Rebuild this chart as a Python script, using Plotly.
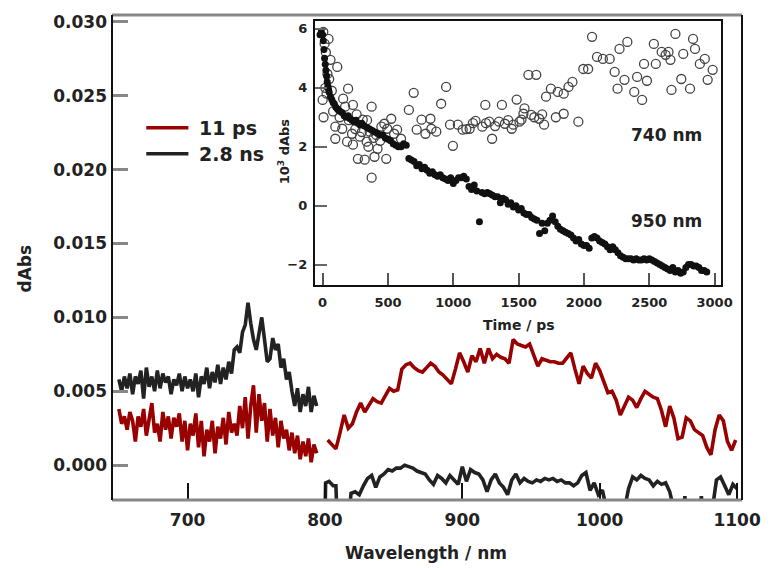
import plotly.graph_objects as go

# ---------------- main spectra ----------------
NM_LEFT = list(range(650, 796, 2))          # 650 ... 794
RED_LEFT = [
    0.0038, 0.0028, 0.0033, 0.0024, 0.0036, 0.0030, 0.0016, 0.0033, 0.0026, 0.0038,
    0.0020, 0.0030, 0.0042, 0.0022, 0.0028, 0.0016, 0.0036, 0.0024, 0.0033, 0.0018,
    0.0032, 0.0026, 0.0035, 0.0016, 0.0030, 0.0010, 0.0028, 0.0020, 0.0035, 0.0012,
    0.0030, 0.0006, 0.0024, 0.0016, 0.0030, 0.0008, 0.0026, 0.0018, 0.0032, 0.0014,
    0.0036, 0.0022, 0.0028, 0.0020, 0.0040, 0.0025, 0.0046, 0.0018, 0.0040, 0.0054,
    0.0022, 0.0048, 0.0030, 0.0042, 0.0016, 0.0038, 0.0020, 0.0032, 0.0012, 0.0030,
    0.0018, 0.0024, 0.0010, 0.0022, 0.0008, 0.0020, 0.0004, 0.0016, 0.0006, 0.0018,
    0.0002, 0.0014, 0.0008,
]
BLACK_LEFT = [
    0.0058, 0.0050, 0.0060, 0.0052, 0.0062, 0.0048, 0.0060, 0.0055, 0.0064, 0.0045,
    0.0066, 0.0053, 0.0060, 0.0050, 0.0064, 0.0052, 0.0062, 0.0056, 0.0060, 0.0048,
    0.0058, 0.0054, 0.0062, 0.0050, 0.0060, 0.0052, 0.0058, 0.0050, 0.0062, 0.0046,
    0.0060, 0.0055, 0.0066, 0.0052, 0.0063, 0.0056, 0.0068, 0.0055, 0.0066, 0.0058,
    0.0070, 0.0062, 0.0078, 0.0080, 0.0076, 0.0090, 0.0095, 0.0110, 0.0096, 0.0085,
    0.0078, 0.0090, 0.0100, 0.0085, 0.0070, 0.0072, 0.0086, 0.0078, 0.0082, 0.0066,
    0.0072, 0.0058, 0.0063, 0.0050, 0.0040, 0.0052, 0.0036, 0.0048, 0.0040, 0.0053,
    0.0036, 0.0047, 0.0040,
]

NM_RED_RIGHT = list(range(802, 1100, 3))    # 802 ... 1099
RED_RIGHT = [
    0.0017, 0.0014, 0.0011, 0.0022, 0.0034, 0.0025, 0.0028, 0.0036, 0.0042, 0.0036,
    0.0040, 0.0045, 0.0043, 0.0042, 0.0047, 0.0052, 0.0050, 0.0051, 0.0065, 0.0068,
    0.0069, 0.0066, 0.0064, 0.0063, 0.0066, 0.0069, 0.0067, 0.0063, 0.0061, 0.0058,
    0.0055, 0.0065, 0.0076, 0.0070, 0.0063, 0.0074, 0.0070, 0.0079, 0.0069, 0.0079,
    0.0072, 0.0075, 0.0073, 0.0072, 0.0069, 0.0085, 0.0082, 0.0081, 0.0080, 0.0082,
    0.0075, 0.0067, 0.0072, 0.0071, 0.0070, 0.0070, 0.0069, 0.0069, 0.0073, 0.0076,
    0.0065, 0.0055, 0.0067, 0.0062, 0.0059, 0.0069, 0.0064, 0.0056, 0.0049, 0.0050,
    0.0044, 0.0034, 0.0040, 0.0046, 0.0044, 0.0039, 0.0045, 0.0050, 0.0048, 0.0046,
    0.0045, 0.0037, 0.0026, 0.0040, 0.0032, 0.0018, 0.0019, 0.0032, 0.0030, 0.0024,
    0.0022, 0.0020, 0.0012, 0.0007, 0.0024, 0.0034, 0.0030, 0.0016, 0.0010, 0.0017,
]

NM_BLACK_RIGHT = [
    800, 800.5, 803, 806, 808, 809, 817, 819, 822, 825,
    828, 831, 834, 837, 840, 843, 846, 849, 852, 855,
    858, 861, 864, 867, 870, 873, 876, 879, 882, 885,
    888, 891, 894, 897, 900, 903, 906, 909, 912, 915,
    918, 921, 924, 927, 930, 933, 936, 939, 942, 945,
    948, 951, 954, 957, 960, 963, 966, 969, 972, 975,
    978, 981, 984, 987, 990, 993, 996, 999, 1002, 1005,
    1018, 1021, 1024, 1027, 1030, 1033, 1036, 1039, 1042, 1045,
    1048, 1051, 1054, 1061, 1062, 1063, 1073, 1074, 1075, 1082,
    1085, 1088, 1091, 1094, 1097, 1100,
]
BLACK_RIGHT = [
    -0.0040, -0.0012, -0.0011, -0.0014, -0.0014, -0.0040, -0.0040, -0.0019, -0.0018, -0.0020,
    -0.0014, -0.0009, -0.0007, -0.0015, -0.0008, -0.0006, -0.0003, -0.0004, -0.0002, -0.0002,
    0.0000, -0.0001, -0.0002, -0.0004, -0.0005, -0.0006, -0.0010, -0.0013, -0.0007, -0.0009,
    -0.0012, -0.0007, -0.0010, -0.0013, -0.0001, -0.0011, -0.0003, -0.0005, -0.0006, -0.0010,
    -0.0018, -0.0010, -0.0006, -0.0012, -0.0015, -0.0020, -0.0010, -0.0006, -0.0012, -0.0009,
    -0.0011, -0.0012, -0.0010, -0.0011, -0.0009, -0.0010, -0.0009, -0.0011, -0.0010, -0.0012,
    -0.0012, -0.0014, -0.0012, -0.0007, -0.0005, -0.0017, -0.0012, -0.0020, -0.0017, -0.0030,
    -0.0030, -0.0016, -0.0008, -0.0010, -0.0007, -0.0009, -0.0010, -0.0014, -0.0011, -0.0013,
    -0.0012, -0.0018, -0.0030, -0.0030, -0.0021, -0.0030, -0.0030, -0.0021, -0.0030, -0.0030,
    -0.0010, -0.0008, -0.0014, -0.0020, -0.0013, -0.0016,
]

# ---------------- inset kinetics ----------------
T950 = [-20, -10, 0, 5, 10, 15, 20, 25, 30, 35,
        40, 45, 50, 60, 70, 80, 90, 100, 110, 120,
        135, 150, 165, 180, 195, 210, 225, 240, 255, 270,
        285, 300, 320, 340, 360, 380, 400, 420, 440, 460,
        480, 500, 520, 540, 560, 580, 600, 620, 640] + list(range(660, 2941, 20))
V950 = [
    5.8, 5.9, 5.8, 5.6, 5.3, 5.0, 4.8, 4.6, 4.4, 4.2,
    4.05, 3.95, 3.85, 3.7, 3.6, 3.5, 3.45, 3.35, 3.3, 3.25,
    3.2, 3.15, 3.05, 3.0, 3.05, 2.95, 2.9, 2.85, 2.9, 2.8,
    2.75, 2.8, 2.7, 2.65, 2.6, 2.55, 2.5, 2.45, 2.4, 2.4,
    2.3, 2.25, 2.2, 2.1, 2.05, 2.0, 2.0, 2.1, 2.05,
    1.6, 1.55, 1.5, 1.35, 1.4, 1.25, 1.3, 1.2, 1.1, 1.15,
    1.05, 1.0, 1.05, 0.95, 0.9, 0.85, 0.95, 0.75, 0.85, 0.95,
    0.95, 1.0, 0.9, 0.65, 0.55, 0.7, 0.5, -0.55, 0.45, 0.4,
    0.45, 0.4, 0.35, 0.3, 0.3, 0.1, 0.25, 0.2, 0.05, 0.1,
    -0.05, 0.0, -0.15, -0.1, -0.25, -0.3, -0.3, -0.4, -0.45, -0.5,
    -0.95, -0.6, -0.85, -0.6, -0.5, -0.35, -0.55, -0.7, -0.8, -0.85,
    -0.9, -0.95, -1.0, -1.1, -1.2, -1.15, -1.3, -1.35, -1.35, -1.45,
    -1.1, -1.05, -1.1, -1.2, -1.25, -1.3, -1.4, -1.5, -1.4, -1.5,
    -1.6, -1.7, -1.75, -1.8, -1.8, -1.8, -1.85, -1.8, -1.85, -1.85,
    -1.8, -1.85, -1.8, -1.85, -1.9, -1.95, -2.0, -2.05, -2.1, -2.15,
    -2.2, -2.1, -2.25, -2.2, -2.3, -2.25, -2.1, -2.0, -2.0, -2.05,
    -2.05, -2.1, -2.2, -2.2, -2.25,
]

T740 = [0, 5, 7, 15, 20, 25, 30, 37, 45, 50,
        60, 70, 80, 97, 97, 112, 130, 150, 157, 172,
        187, 195, 200, 225, 232, 232, 250, 260, 270, 285,
        300, 307, 322, 337, 340, 350, 360, 375, 375, 390,
        397, 410, 420, 440, 450, 472, 487, 495, 525, 547,
        570, 600, 660, 697, 720, 757, 787, 825, 832, 870,
        907, 945, 975, 997, 1035, 1072, 1100, 1125, 1150, 1170,
        1222, 1245, 1250, 1275, 1297, 1320, 1350, 1372, 1395, 1420,
        1447, 1460, 1485, 1507, 1522, 1537, 1545, 1575, 1597, 1620,
        1635, 1657, 1680, 1695, 1710, 1747, 1785, 1800, 1845, 1845,
        1882, 1912, 1957, 1995, 2032, 2062, 2100, 2145, 2197, 2235,
        2257, 2272, 2310, 2332, 2385, 2407, 2445, 2460, 2482, 2535,
        2550, 2595, 2625, 2647, 2662, 2670, 2700, 2745, 2760, 2812,
        2835, 2850, 2887, 2925, 2947, 2985]
V740 = [3.59, 5.9, 3.0, 5.5, 4.0, 5.2, 3.8, 4.47, 5.66, 4.3,
        4.95, 3.9, 3.2, 2.68, 2.27, 4.71, 3.0, 2.61, 3.63, 3.36,
        2.17, 3.97, 2.9, 2.44, 3.42, 2.07, 2.6, 3.1, 1.59, 2.34,
        2.5, 2.92, 1.56, 2.17, 2.9, 2.0, 2.51, 3.36, 0.95, 2.3,
        1.66, 2.4, 1.93, 2.2, 2.68, 2.78, 1.59, 2.61, 2.95, 2.44,
        2.58, 2.27, 3.25, 3.83, 2.58, 2.92, 2.44, 2.95, 2.61, 2.51,
        3.46, 4.03, 2.75, 2.03, 2.75, 2.58, 2.6, 2.61, 2.8, 2.88,
        2.68, 3.42, 2.8, 2.85, 2.27, 2.7, 2.85, 3.42, 2.78, 2.9,
        2.61, 2.75, 3.6, 2.85, 2.92, 3.12, 3.3, 4.44, 3.08, 3.0,
        4.44, 2.95, 3.1, 2.75, 3.7, 3.97, 3.0, 3.86, 3.8, 3.12,
        4.03, 4.2, 2.85, 4.64, 4.64, 5.73, 5.05, 4.98, 4.98, 4.54,
        3.97, 5.32, 4.27, 5.56, 3.86, 4.37, 3.59, 4.81, 4.24, 5.49,
        4.81, 5.22, 5.12, 5.22, 4.95, 3.93, 5.83, 4.3, 5.15, 3.97,
        5.66, 5.32, 4.81, 4.98, 4.27, 4.61]

MAIN_XTICKS = [700, 800, 900, 1000, 1100]
MAIN_YTICKS = [0.000, 0.005, 0.010, 0.015, 0.020, 0.025, 0.030]
INSET_XTICKS = [0, 500, 1000, 1500, 2000, 2500, 3000]
INSET_YTICKS = [-2, 0, 2, 4, 6]
LEGEND = ["11 ps", "2.8 ns"]

RED = "#990000"
BLK = "#222222"
FONT = "DejaVu Sans"
TXT = "#222222"

fig = go.Figure()

fig.add_trace(go.Scatter(
    x=NM_LEFT + [None] + NM_RED_RIGHT, y=RED_LEFT + [None] + RED_RIGHT,
    mode="lines", line=dict(color=RED, width=3.6), connectgaps=False,
    name=LEGEND[0], showlegend=False))
fig.add_trace(go.Scatter(
    x=NM_LEFT + [None] + NM_BLACK_RIGHT, y=BLACK_LEFT + [None] + BLACK_RIGHT,
    mode="lines", line=dict(color=BLK, width=3.6), connectgaps=False,
    name=LEGEND[1], showlegend=False))

fig.add_trace(go.Scatter(
    x=T740, y=V740, xaxis="x2", yaxis="y2", mode="markers",
    marker=dict(symbol="circle-open", size=9, color="#444444", line=dict(width=1.3)),
    showlegend=False))
fig.add_trace(go.Scatter(
    x=T950, y=V950, xaxis="x2", yaxis="y2", mode="markers",
    marker=dict(symbol="circle", size=7, color="#111111"),
    showlegend=False))

tickfont_main = dict(family=FONT, size=17, color=TXT, weight="bold")
tickfont_in = dict(family=FONT, size=13, color=TXT, weight="bold")

fig.update_layout(
    width=773, height=568,
    margin=dict(l=112, r=18, t=14, b=68),
    paper_bgcolor="white", plot_bgcolor="white",
    xaxis=dict(range=[645, 1103.6], tickvals=MAIN_XTICKS, ticks="inside",
               ticklen=17, tickwidth=2, tickcolor="#111", showline=False,
               showgrid=False, zeroline=False, tickfont=tickfont_main,
               ticklabelstandoff=8),
    yaxis=dict(range=[-0.00236, 0.03047], tickvals=MAIN_YTICKS,
               ticktext=["%.3f" % v for v in MAIN_YTICKS], ticks="inside",
               ticklen=16, tickwidth=3, tickcolor="#888", showline=False,
               showgrid=False, zeroline=False, tickfont=tickfont_main,
               ticklabelstandoff=4),
    xaxis2=dict(domain=[0.3219, 0.9673], anchor="y2", range=[-60, 3052],
                tickvals=INSET_XTICKS, ticks="inside", ticklen=12, tickwidth=2,
                tickcolor="#555", showline=True, mirror=True, linecolor="#111",
                linewidth=2, showgrid=False, zeroline=False, tickfont=tickfont_in,
                ticklabelstandoff=4),
    yaxis2=dict(domain=[0.4424, 0.9877], anchor="x2", range=[-2.71, 6.27],
                tickvals=INSET_YTICKS, ticks="inside", ticklen=12, tickwidth=2,
                tickcolor="#666", showline=True, mirror=True, linecolor="#111",
                linewidth=2, showgrid=False, zeroline=False, tickfont=tickfont_in,
                ticklabelstandoff=3),
)

# main frame
frame = [
    dict(x0=0, x1=1, y0=1, y1=1, color="#888", w=3),
    dict(x0=0, x1=1, y0=0, y1=0, color="#888", w=3),
    dict(x0=0, x1=0, y0=0, y1=1, color="#111", w=2),
    dict(x0=1, x1=1, y0=0, y1=1, color="#111", w=2),
]
for f in frame:
    fig.add_shape(type="line", xref="paper", yref="paper", x0=f["x0"], x1=f["x1"],
                  y0=f["y0"], y1=f["y1"], line=dict(color=f["color"], width=f["w"]))

# manual legend
for i, (lab, col) in enumerate(zip(LEGEND, [RED, BLK])):
    yp = [0.7675, 0.714][i]
    fig.add_shape(type="line", xref="paper", yref="paper", x0=0.0544, x1=0.1213,
                  y0=yp, y1=yp, line=dict(color=col, width=3.6))
    fig.add_annotation(xref="paper", yref="paper", x=0.1353, y=yp, text=lab,
                       showarrow=False, xanchor="left", yanchor="middle",
                       font=dict(family=FONT, size=19, color=TXT, weight="bold"))

ann_font = dict(family=FONT, size=17, color=TXT, weight="bold")
fig.add_annotation(xref="paper", yref="paper", x=0.4992, y=-0.109,
                   xanchor="center", yanchor="middle",
                   text="Wavelength / nm", showarrow=False, font=ann_font)
fig.add_annotation(xref="paper", yref="paper", x=-0.1384, y=0.477, text="dAbs",
                   xanchor="center", yanchor="middle",
                   textangle=-90, showarrow=False, font=ann_font)
fig.add_annotation(xref="paper", yref="paper", x=0.6454, y=0.360, text="Time / ps",
                   xanchor="center", yanchor="middle", showarrow=False,
                   font=dict(family=FONT, size=14, color=TXT, weight="bold"))
fig.add_annotation(xref="paper", yref="paper", x=0.2722, y=0.720,
                   xanchor="center", yanchor="middle",
                   text="10<sup>3</sup> dAbs", textangle=-90, showarrow=False,
                   font=dict(family=FONT, size=13, color=TXT, weight="bold"))
fig.add_annotation(xref="x2", yref="y2", x=2632, y=2.41, text="740 nm",
                   xanchor="center", yanchor="middle", showarrow=False,
                   font=dict(family=FONT, size=17, color=TXT, weight="bold"))
fig.add_annotation(xref="x2", yref="y2", x=2632, y=-0.51, text="950 nm",
                   xanchor="center", yanchor="middle", showarrow=False,
                   font=dict(family=FONT, size=17, color=TXT, weight="bold"))

fig.write_html("out.html")
